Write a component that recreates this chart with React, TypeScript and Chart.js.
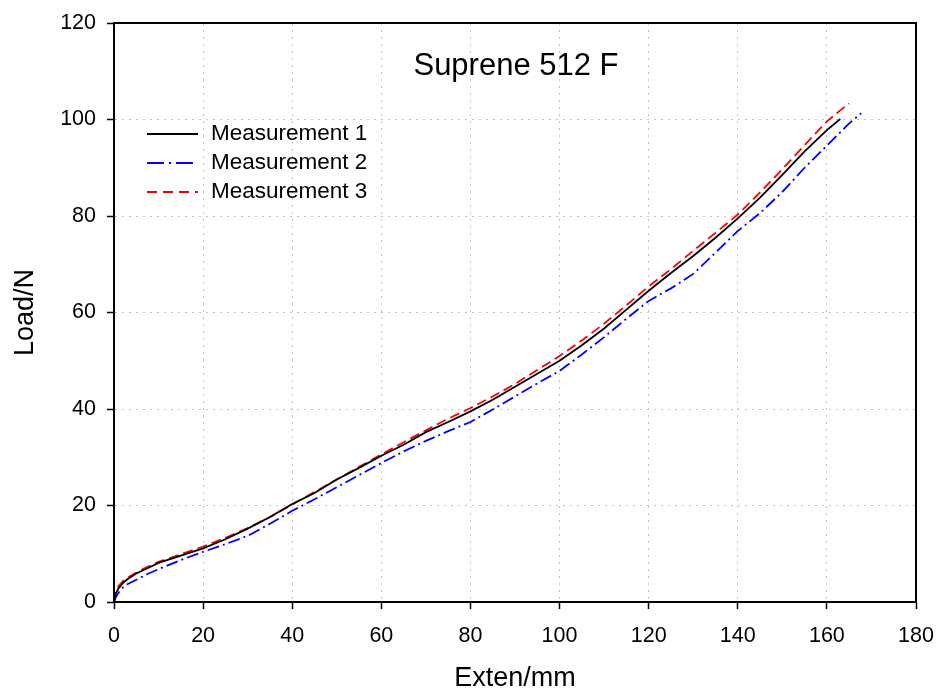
import React, { useEffect, useRef } from "react";
import { Chart, registerables } from "chart.js";

Chart.register(...registerables);

const chartTitle = "Suprene 512 F";
const xTitle = "Exten/mm";
const yTitle = "Load/N";
const seriesNames = ["Measurement 1", "Measurement 2", "Measurement 3"];

const ext1 = [0, 0.4, 1, 2, 3, 5, 7.5, 10, 15, 20, 25, 30, 35, 40, 45, 50, 55, 60, 65, 70, 75, 80, 85, 90, 95, 100, 105, 110, 115, 120, 125, 130, 135, 140, 145, 150, 155, 160, 163];
const load1 = [0, 1.8, 2.8, 3.9, 4.7, 5.9, 7.0, 8.1, 9.6, 11.1, 13.0, 15.2, 17.6, 20.3, 22.6, 25.4, 27.8, 30.3, 32.6, 35.2, 37.3, 39.5, 41.9, 44.6, 47.3, 50.0, 53.2, 56.7, 60.6, 64.5, 68.2, 71.7, 75.5, 79.5, 83.8, 88.5, 93.4, 97.8, 100.1];

const ext2 = [0, 0.4, 1, 2, 3, 5, 7.5, 10, 15, 20, 25, 30, 35, 40, 45, 50, 55, 60, 65, 70, 75, 80, 85, 90, 95, 100, 105, 110, 115, 120, 125, 130, 135, 140, 145, 150, 155, 160, 165, 167.7];
const load2 = [0, 1.0, 1.9, 3.0, 3.7, 4.6, 5.8, 6.8, 8.7, 10.4, 12.0, 13.7, 16.2, 18.9, 21.3, 23.8, 26.3, 28.8, 31.2, 33.4, 35.4, 37.3, 39.9, 42.6, 45.3, 47.9, 51.3, 54.9, 58.7, 62.4, 65.0, 68.0, 72.4, 76.9, 80.6, 85.0, 90.0, 94.6, 99.2, 101.3];

const ext3 = [0, 0.4, 1, 2, 3, 5, 7.5, 10, 15, 20, 25, 30, 35, 40, 45, 50, 55, 60, 65, 70, 75, 80, 85, 90, 95, 100, 105, 110, 115, 120, 125, 130, 135, 140, 145, 150, 155, 160, 163, 165];
const load3 = [0, 2.2, 3.3, 4.3, 5.0, 6.1, 7.3, 8.3, 9.9, 11.5, 13.3, 15.3, 17.6, 20.2, 22.8, 25.4, 28.0, 30.6, 33.1, 35.6, 38.0, 40.2, 42.6, 45.2, 48.1, 51.0, 54.2, 57.7, 61.5, 65.4, 69.0, 72.8, 76.5, 80.3, 84.9, 89.7, 94.7, 99.6, 101.9, 103.3];

const FONT = "'Liberation Sans', Arial, sans-serif";

const toPoints = (xs: number[], ys: number[]) => xs.map((x, i) => ({ x, y: ys[i] }));

const decorPlugin = {
  id: "decor",
  afterDraw(chart: any) {
    const { ctx, chartArea } = chart;
    ctx.save();
    ctx.strokeStyle = "#000";
    ctx.lineWidth = 2;
    ctx.setLineDash([]);
    ctx.strokeRect(chartArea.left, chartArea.top, chartArea.right - chartArea.left, chartArea.bottom - chartArea.top);
    ctx.fillStyle = "#000";
    ctx.font = `31px ${FONT}`;
    ctx.textAlign = "center";
    ctx.textBaseline = "middle";
    ctx.fillText(chartTitle, 516, 66);
    const rows = [134, 163, 192];
    chart.data.datasets.forEach((ds: any, i: number) => {
      const y = rows[i];
      ctx.beginPath();
      ctx.strokeStyle = ds.borderColor;
      ctx.lineWidth = 1.8;
      ctx.setLineDash(ds.legendDash || []);
      ctx.moveTo(147, y);
      ctx.lineTo(198, y);
      ctx.stroke();
      ctx.setLineDash([]);
      ctx.fillStyle = "#000";
      ctx.font = `22.5px ${FONT}`;
      ctx.textAlign = "left";
      ctx.textBaseline = "middle";
      ctx.fillText(ds.label, 211, y);
    });
    ctx.restore();
  },
};

export default function App() {
  const ref = useRef<HTMLCanvasElement | null>(null);
  useEffect(() => {
    if (!ref.current) return;
    const chart = new Chart(ref.current, {
      type: "line",
      data: {
        datasets: [
          {
            label: seriesNames[0],
            data: toPoints(ext1, load1),
            borderColor: "#000000",
            borderWidth: 1.8,
            pointRadius: 0,
            tension: 0,
            legendDash: [],
          } as any,
          {
            label: seriesNames[1],
            data: toPoints(ext2, load2),
            borderColor: "#0000ff",
            borderWidth: 1.8,
            borderDash: [12, 4, 2, 4],
            pointRadius: 0,
            tension: 0,
            legendDash: [17, 5, 2, 5],
          } as any,
          {
            label: seriesNames[2],
            data: toPoints(ext3, load3),
            borderColor: "#ff0000",
            borderWidth: 1.8,
            borderDash: [10, 5],
            pointRadius: 0,
            tension: 0,
            legendDash: [10, 6],
          } as any,
        ],
      },
      options: {
        responsive: false,
        animation: false,
        parsing: false as any,
        layout: { padding: { left: 0, right: 20, top: 23, bottom: 0 } },
        plugins: { legend: { display: false }, tooltip: { enabled: false }, title: { display: false } },
        scales: {
          x: {
            type: "linear",
            min: 0,
            max: 180,
            afterFit: (s: any) => { s.height = 93; s.paddingLeft = 0; s.paddingRight = 0; },
            ticks: { stepSize: 20, color: "#000", font: { family: FONT, size: 21.5 }, padding: 14, maxRotation: 0 },
            grid: { color: "#c4c4c4", lineWidth: 1, tickLength: 7, tickColor: "#000", tickWidth: 1.5, tickBorderDash: [] } as any,
            border: { display: true, color: "#000", width: 2, dash: [2, 5] } as any,
            title: { display: true, text: xTitle, color: "#000", font: { family: FONT, size: 27 }, padding: { top: -3, bottom: 0 } },
          },
          y: {
            type: "linear",
            min: 0,
            max: 120,
            afterFit: (s: any) => { s.width = 114; s.paddingTop = 0; s.paddingBottom = 0; },
            ticks: { stepSize: 20, color: "#000", font: { family: FONT, size: 21.5 }, padding: 11 },
            grid: { color: "#c4c4c4", lineWidth: 1, tickLength: 7, tickColor: "#000", tickWidth: 1.5, tickBorderDash: [] } as any,
            border: { display: true, color: "#000", width: 2, dash: [2, 5] } as any,
            title: { display: true, text: yTitle, color: "#000", font: { family: FONT, size: 27 }, padding: { top: 9, bottom: 0 } },
          },
        },
      },
      plugins: [decorPlugin],
    });
    return () => chart.destroy();
  }, []);
  return (
    <div style={{ position: "fixed", left: 0, top: 0, width: 936, height: 695, background: "#fff" }}>
      <canvas ref={ref} width={936} height={695} style={{ display: "block" }} />
    </div>
  );
}
